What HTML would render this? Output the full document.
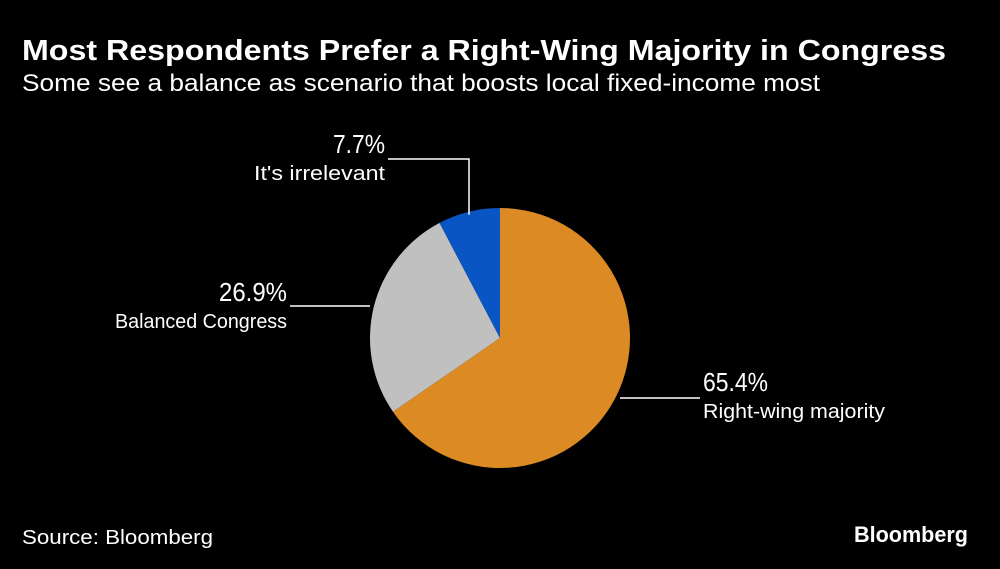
<!DOCTYPE html>
<html><head><meta charset="utf-8"><style>
html,body{margin:0;padding:0;background:#000;}
svg{display:block;font-family:"Liberation Sans",sans-serif;}
</style></head><body>
<svg id="chart" width="1000" height="569" viewBox="0 0 1000 569">
<rect width="1000" height="569" fill="#000"/>
<text x="22" y="60" fill="#fff" font-size="29" font-weight="bold" textLength="924" lengthAdjust="spacingAndGlyphs">Most Respondents Prefer a Right-Wing Majority in Congress</text>
<text x="22" y="91" fill="#fff" font-size="24" textLength="798" lengthAdjust="spacingAndGlyphs">Some see a balance as scenario that boosts local fixed-income most</text>
<g id="slices"></g>
<g id="labels"></g>
<text x="22" y="544" fill="#fff" font-size="20" textLength="191" lengthAdjust="spacingAndGlyphs">Source: Bloomberg</text>
<text x="968" y="542" fill="#fff" font-size="22" font-weight="bold" text-anchor="end" textLength="114" lengthAdjust="spacingAndGlyphs">Bloomberg</text>
</svg>
<script>
const categories = ["Right-wing majority","Balanced Congress","It's irrelevant"];
const values = [65.4, 26.9, 7.7];
const colors = ["#dc8a24","#c0c0c0","#0a55c4"];
const cx=500, cy=338, r=130;
const ns="http://www.w3.org/2000/svg";
const g=document.getElementById('slices');
const total=values.reduce((a,b)=>a+b,0);
let a0=0;
function pt(a,rr){return [cx+rr*Math.sin(a), cy-rr*Math.cos(a)];}
const mids=[];
values.forEach((v,i)=>{
  const a1=a0+v/total*2*Math.PI;
  const p0=pt(a0,r), p1=pt(a1,r);
  const large=(a1-a0)>Math.PI?1:0;
  const p=document.createElementNS(ns,'path');
  p.setAttribute('d',`M${cx},${cy} L${p0[0]},${p0[1]} A${r},${r} 0 ${large} 1 ${p1[0]},${p1[1]} Z`);
  p.setAttribute('fill',colors[i]);
  
  
  g.appendChild(p);
  mids.push((a0+a1)/2);
  a0=a1;
});
const L=document.getElementById('labels');
function add(tag,attrs,text,name){
  const e=document.createElementNS(ns,tag);
  for(const k in attrs)e.setAttribute(k,attrs[k]);
  if(text!==undefined)e.textContent=text;
  
  
  L.appendChild(e);return e;
}
const LA='spacingAndGlyphs';
// Right-wing
let m=pt(mids[0],r);
add('line',{x1:620,y1:398,x2:700,y2:398,stroke:'#fff','stroke-width':1.5},undefined,'leader-right-wing');
add('text',{x:703,y:391,fill:'#fff','font-size':26,textLength:65,lengthAdjust:LA},values[0].toFixed(1)+'%','value-right-wing');
add('text',{x:703,y:418,fill:'#fff','font-size':20,textLength:182,lengthAdjust:LA},categories[0],'label-right-wing');
// Balanced
m=pt(mids[1],r);
add('line',{x1:290,y1:306,x2:370,y2:306,stroke:'#fff','stroke-width':1.5},undefined,'leader-balanced');
add('text',{x:287,y:301,fill:'#fff','font-size':26,'text-anchor':'end',textLength:68,lengthAdjust:LA},values[1].toFixed(1)+'%','value-balanced');
add('text',{x:287,y:328,fill:'#fff','font-size':20,'text-anchor':'end',textLength:172,lengthAdjust:LA},categories[1],'label-balanced');
// Irrelevant
m=pt(mids[2],r);
add('polyline',{points:`388,159 469,159 469,${m[1]+3}`,fill:'none',stroke:'#fff','stroke-width':1.5},undefined,'leader-irrelevant');
add('text',{x:385,y:153,fill:'#fff','font-size':26,'text-anchor':'end',textLength:52,lengthAdjust:LA},values[2].toFixed(1)+'%','value-irrelevant');
add('text',{x:385,y:180,fill:'#fff','font-size':20,'text-anchor':'end',textLength:131,lengthAdjust:LA},categories[2],'label-irrelevant');
</script>
</body></html>
